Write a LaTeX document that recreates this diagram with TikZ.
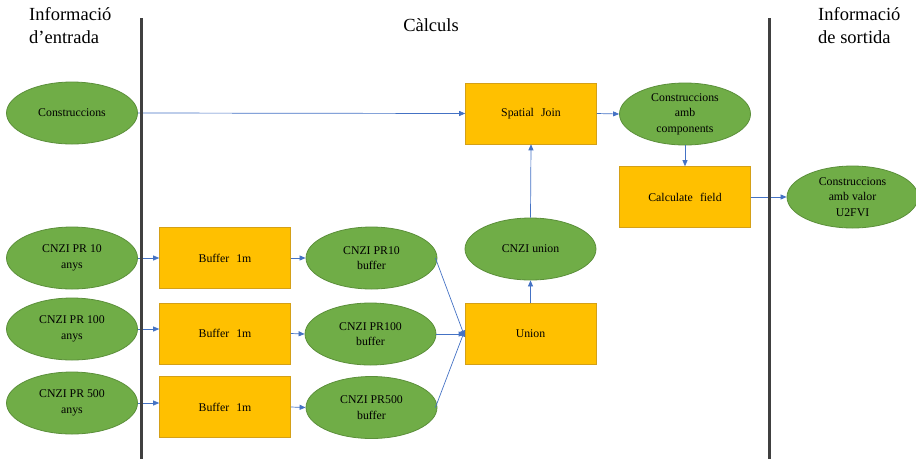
\documentclass[tikz,border=0pt]{standalone}
\usepackage{fontspec}
\setmainfont{Liberation Serif}
\usetikzlibrary{shapes.geometric,arrows.meta}
\definecolor{gfill}{HTML}{70AD47}
\definecolor{gline}{HTML}{5B8F3A}
\definecolor{ofill}{HTML}{FFC000}
\definecolor{oline}{HTML}{D4A017}
\definecolor{arr}{HTML}{4472C4}
\definecolor{sep}{HTML}{404040}
\begin{document}
\begin{tikzpicture}[x=1pt,y=-1pt,
  dataell/.style={ellipse,draw=gline,line width=0.8pt,fill=gfill,minimum width=131pt,minimum height=62pt,inner sep=0pt,align=center,font=\fontsize{11.8}{15.5}\selectfont},
  procbox/.style={rectangle,draw=oline,line width=0.6pt,fill=ofill,minimum width=131pt,minimum height=61pt,inner sep=0pt,align=center,font=\fontsize{11.8}{15.5}\selectfont},
  conn/.style={draw=arr,line width=0.7pt,-{Triangle[length=6pt,width=5pt]}},
  sepline/.style={draw=sep,line width=3pt},
  title/.style={inner sep=0pt,align=left,font=\fontsize{18.5}{23}\selectfont}]
\useasboundingbox (0,0) rectangle (916,459);
% titles
\node[title,anchor=base west] (tin) at (29,43.5) {Informació\\d’entrada};
\node[title,anchor=base] (tcalc) at (431,31) {Càlculs};
\node[title,anchor=base west] (tout) at (818,43.5) {Informació\\de sortida};
% nodes
\node[dataell] (cons) at (72,113) {Construccions};
\node[dataell] (pr10) at (72,258) {CNZI PR 10\\anys};
\node[dataell] (pr100) at (72,329) {CNZI PR 100\\anys};
\node[dataell] (pr500) at (72,403) {CNZI PR 500\\anys};
\node[procbox] (b10) at (225,258) {Buffer\hspace{0.6em}1m};
\node[procbox] (b100) at (225,333.5) {Buffer\hspace{0.6em}1m};
\node[procbox] (b500) at (225,407) {Buffer\hspace{0.6em}1m};
\node[dataell] (e10) at (371.5,258) {CNZI PR10\\buffer};
\node[dataell] (e100) at (370.5,334) {CNZI PR100\\buffer};
\node[dataell] (e500) at (371.5,407.5) {CNZI PR500\\buffer};
\node[procbox] (union) at (530.5,333.5) {Union};
\node[dataell] (cunion) at (530.5,249) {CNZI union};
\node[procbox] (sjoin) at (531,113.5) {Spatial\hspace{0.6em}Join};
\node[dataell] (comp) at (685,114) {Construccions\\amb\\components};
\node[procbox] (calc) at (685,197) {Calculate\hspace{0.6em}field};
\node[dataell] (u2) at (852.5,197) {Construccions\\amb valor\\U2FVI};
% connectors
\draw[conn] (cons.east) -- (sjoin.west);
\draw[conn] (sjoin.east) -- (comp.west);
\draw[conn] (comp.south) -- (calc.north);
\draw[conn] (calc.east) -- (u2.west);
\draw[conn] (pr10.east) -- (b10.west);
\draw[conn] (pr100.east) -- (pr100.east -| b100.west);
\draw[conn] (pr500.east) -- (pr500.east -| b500.west);
\draw[conn] (b10.east) -- (e10.west);
\draw[conn] (b100.east) -- (e100.west);
\draw[conn] (b500.east) -- (e500.west);
\coordinate (uin) at ([yshift=-3pt]union.west);
\coordinate (uin2) at ([yshift=3pt]union.west);
\draw[conn] ([shift={(-2pt,0pt)}]e10.east) -- (uin);
\draw[conn] (e100.east) -- (e100.east -| union.west);
\draw[conn] ([shift={(-2pt,0pt)}]e500.east) -- (uin2);
\draw[conn] (union.north) -- (cunion.south);
\draw[conn] (cunion.north) -- (sjoin.south);
% separators
\coordinate (s1t) at (141,18);
\coordinate (s1b) at (141,459);
\coordinate (s2t) at (769,18);
\coordinate (s2b) at (769,459);
\draw[sepline] (s1t) -- (s1b);
\draw[sepline] (s2t) -- (s2b);
\end{tikzpicture}
\end{document}
